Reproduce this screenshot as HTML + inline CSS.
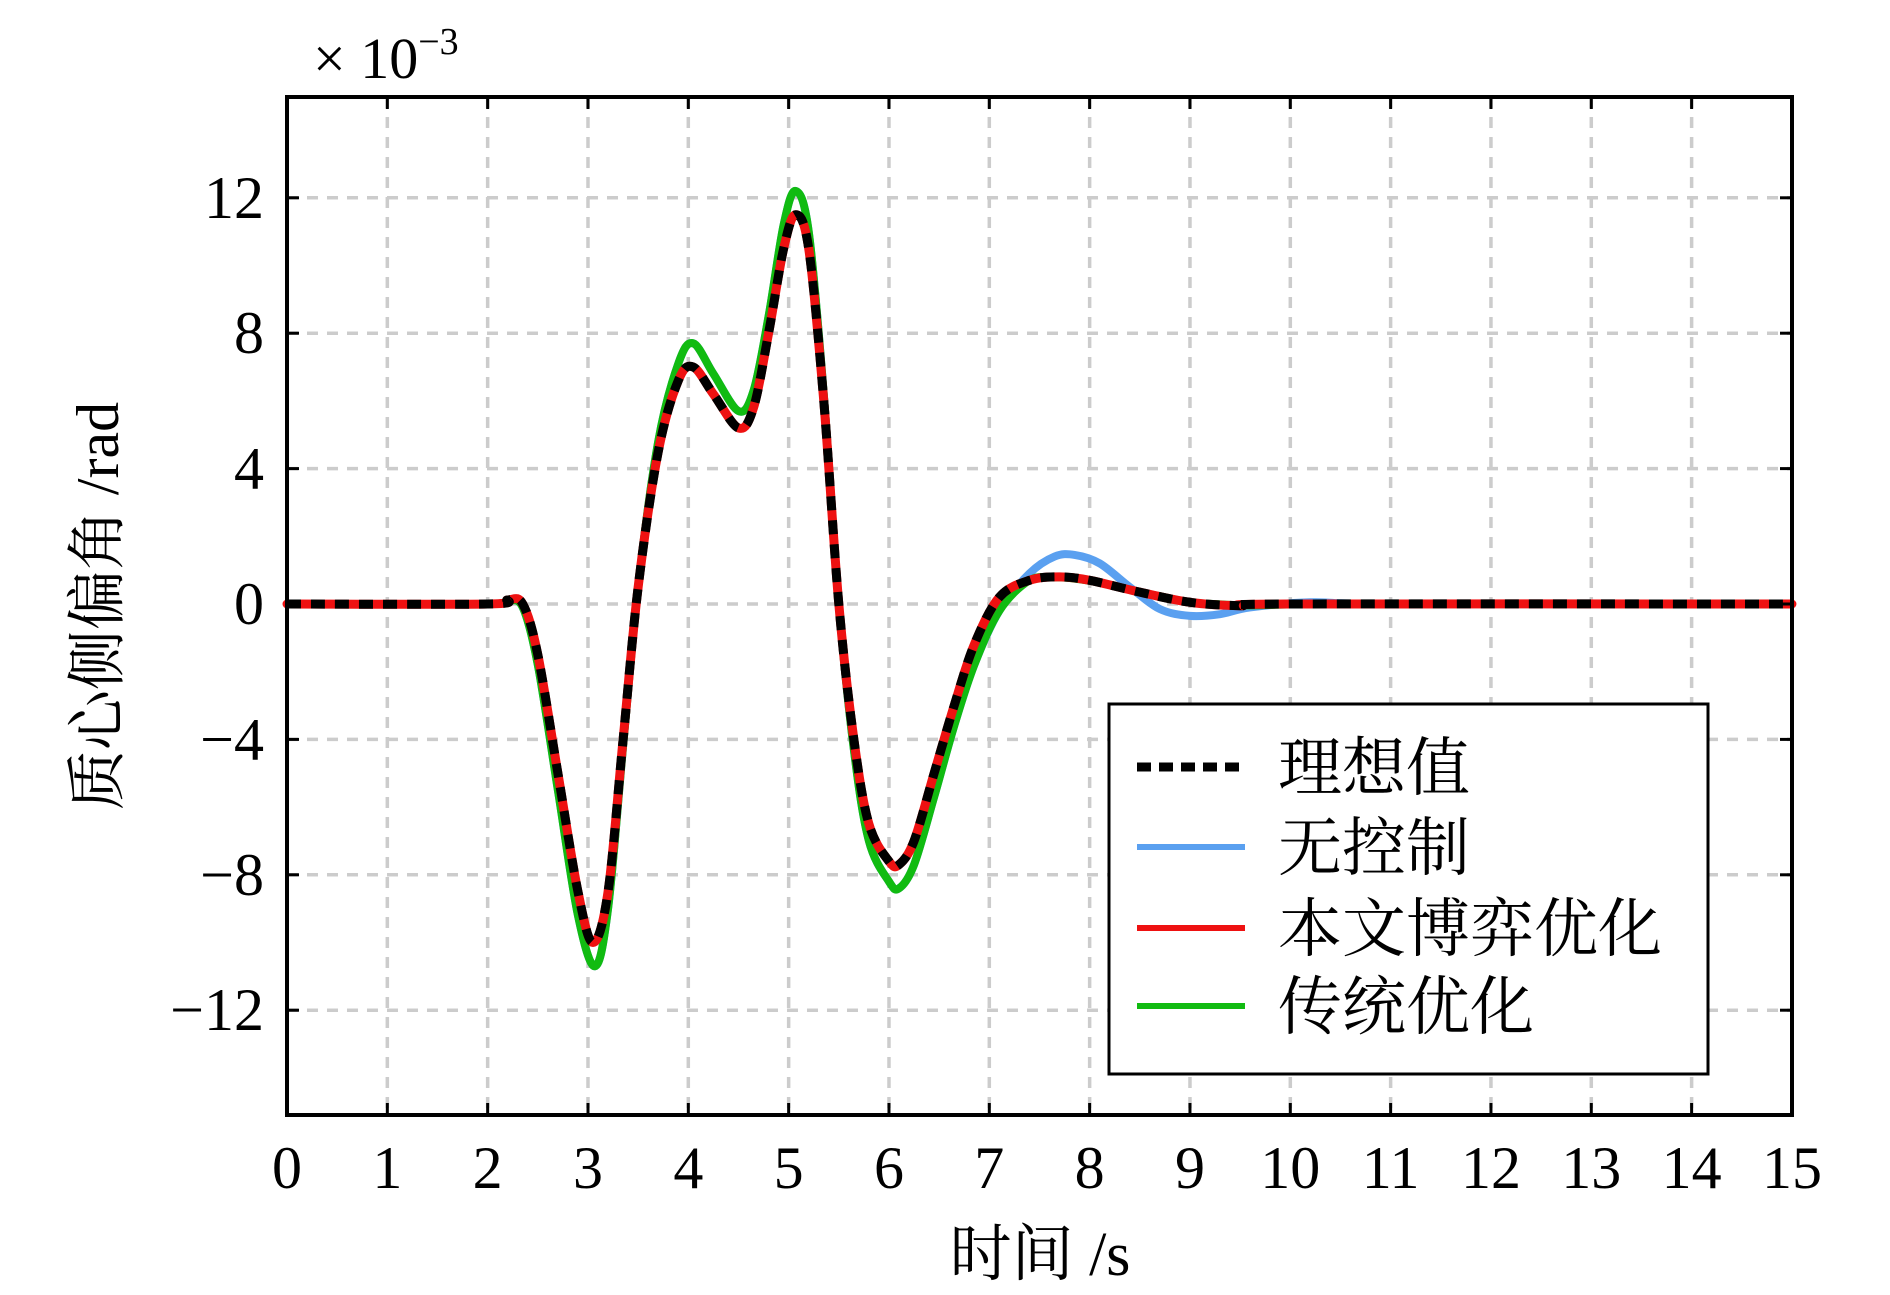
<!DOCTYPE html>
<html><head><meta charset="utf-8">
<style>
html,body{margin:0;padding:0;background:#fff;}
svg text{font-family:"Liberation Serif","Noto Serif CJK SC",serif;}
</style></head>
<body>
<svg id="s" width="1890" height="1290" viewBox="0 0 1890 1290" xmlns="http://www.w3.org/2000/svg">
<g id="grid" stroke="#cccccc" stroke-width="3.5" stroke-dasharray="11,9" fill="none"></g>
<g id="curves" fill="none" stroke-linejoin="round" stroke-linecap="round"></g>
<rect x="287" y="97" width="1505" height="1018" fill="none" stroke="#000" stroke-width="4"/>
<g id="ticks" stroke="#000" stroke-width="3"></g>
<g id="labels" font-size="60" fill="#000"></g>
<text x="313" y="78" font-size="58">× 10<tspan dy="-24" font-size="38">−3</tspan></text>
<text transform="translate(118,606) rotate(-90)" text-anchor="middle" font-size="60">质心侧偏角 /rad</text>
<text x="1040" y="1275" text-anchor="middle" font-size="62">时间 /s</text>
<rect x="1109" y="704" width="599" height="370" fill="#fff" stroke="#000" stroke-width="3"/>
<line x1="1137" y1="767" x2="1245" y2="767" stroke="#000" stroke-width="9" stroke-dasharray="14,8"/>
<line x1="1137" y1="847" x2="1245" y2="847" stroke="#5aa0f0" stroke-width="6"/>
<line x1="1137" y1="928" x2="1245" y2="928" stroke="#ee1111" stroke-width="6"/>
<line x1="1137" y1="1006" x2="1245" y2="1006" stroke="#11bb11" stroke-width="6"/>
<g font-size="64">
<text x="1278" y="790">理想值</text>
<text x="1278" y="870">无控制</text>
<text x="1278" y="951">本文博弈优化</text>
<text x="1278" y="1029">传统优化</text>
</g>
</svg>
<script>
var X=t=>287+100.33*t, Y=v=>604-33.85*v;
var ns="http://www.w3.org/2000/svg";
function el(p,n,a,txt){var e=document.createElementNS(ns,n);for(var k in a)e.setAttribute(k,a[k]);if(txt!==undefined)e.textContent=txt;document.getElementById(p).appendChild(e);}
for(var i=1;i<15;i++){el("grid","line",{x1:X(i),y1:97,x2:X(i),y2:1115});}
for(var v=-12;v<=12;v+=4){el("grid","line",{x1:287,y1:Y(v),x2:1792,y2:Y(v)});}
for(var i=0;i<=15;i++){el("ticks","line",{x1:X(i),y1:1115,x2:X(i),y2:1103});el("ticks","line",{x1:X(i),y1:97,x2:X(i),y2:109});
 el("labels","text",{x:X(i),y:1188,"text-anchor":"middle"},""+i);}
for(var v=-12;v<=12;v+=4){el("ticks","line",{x1:287,y1:Y(v),x2:299,y2:Y(v)});el("ticks","line",{x1:1792,y1:Y(v),x2:1780,y2:Y(v)});
 el("labels","text",{x:264,y:Y(v)+20,"text-anchor":"end"},(v<0?"−":"")+Math.abs(v));}
function path(pts){var d="M"+X(pts[0][0])+","+Y(pts[0][1]);
 for(var i=0;i<pts.length-1;i++){var p0=pts[Math.max(0,i-1)],p1=pts[i],p2=pts[i+1],p3=pts[Math.min(pts.length-1,i+2)];
  var a=[X(p0[0]),Y(p0[1])],b=[X(p1[0]),Y(p1[1])],c=[X(p2[0]),Y(p2[1])],e=[X(p3[0]),Y(p3[1])];
  d+=" C"+(b[0]+(c[0]-a[0])/6)+","+(b[1]+(c[1]-a[1])/6)+" "+(c[0]-(e[0]-b[0])/6)+","+(c[1]-(e[1]-b[1])/6)+" "+c[0]+","+c[1];}
 return d;}
var ideal=[[0,0],[2,0],[2.2,0.12],[2.35,0],[2.5,-1.5],[2.7,-5],[2.9,-8.5],[3.05,-10],[3.2,-8.5],[3.35,-4],[3.5,0.5],[3.7,4.5],[3.9,6.6],[4.05,7.0],[4.25,6.2],[4.5,5.2],[4.65,5.8],[4.8,8],[4.95,10.5],[5.07,11.5],[5.2,10.5],[5.35,6],[5.5,0],[5.65,-4],[5.8,-6.5],[6.0,-7.6],[6.1,-7.7],[6.25,-7],[6.45,-5],[6.65,-3],[6.85,-1.2],[7.1,0.2],[7.4,0.7],[7.7,0.8],[8.0,0.7],[8.5,0.35],[9.0,0.05],[9.5,-0.05],[10,0],[15,0]];
var blue=[[0,0],[2,0],[2.2,0.1],[2.35,-0.1],[2.5,-1.8],[2.7,-5.5],[2.9,-9.2],[3.07,-10.7],[3.2,-9],[3.35,-4.2],[3.5,0.5],[3.7,4.8],[3.9,7.1],[4.05,7.7],[4.25,6.8],[4.5,5.7],[4.65,6.3],[4.8,8.5],[4.95,11.2],[5.07,12.2],[5.2,11],[5.35,6.2],[5.5,0],[5.65,-4.3],[5.8,-7],[6.0,-8.2],[6.1,-8.4],[6.25,-7.7],[6.45,-5.7],[6.65,-3.6],[6.85,-1.8],[7.1,-0.2],[7.4,0.9],[7.65,1.4],[7.85,1.45],[8.1,1.2],[8.4,0.5],[8.7,-0.15],[9.0,-0.35],[9.3,-0.3],[9.6,-0.1],[10.2,0.05],[11,0],[15,0]];
function interp(t){for(var i=0;i<ideal.length-1;i++){if(t>=ideal[i][0]&&t<=ideal[i+1][0]){var f=(t-ideal[i][0])/(ideal[i+1][0]-ideal[i][0]);return ideal[i][1]+f*(ideal[i+1][1]-ideal[i][1]);}}return 0;}
var green=blue.map(p=>p[0]>=7.3?[p[0],interp(p[0])]:p);
el("curves","path",{d:path(blue),stroke:"#5aa0f0","stroke-width":8});
el("curves","path",{d:path(green),stroke:"#11bb11","stroke-width":8});
el("curves","path",{d:path(ideal),stroke:"#ee1111","stroke-width":9});
el("curves","path",{d:path(ideal),stroke:"#000","stroke-width":9,"stroke-dasharray":"14,10","stroke-linecap":"butt"});
</script>
</body></html>
